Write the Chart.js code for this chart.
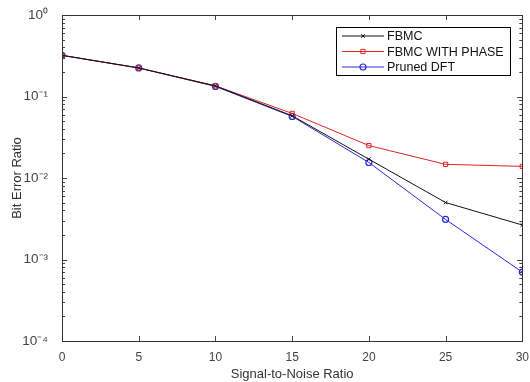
<!DOCTYPE html>
<html>
<head>
<meta charset="utf-8">
<script src="https://cdn.jsdelivr.net/npm/chart.js@4/dist/chart.umd.min.js"></script>
<style>
  html, body { margin: 0; padding: 0; background: #fff; }
  #wrap { width: 530px; height: 382px; }
</style>
</head>
<body>
<div id="wrap"><canvas id="c" width="530" height="382"></canvas></div>
<script>
const snr = [0, 5, 10, 15, 20, 25, 30];
const fbmc = [0.32, 0.224, 0.135, 0.058, 0.017, 0.005, 0.00265];
const fbmcPhase = [0.32, 0.224, 0.135, 0.062, 0.025, 0.0147, 0.0139];
const prunedDft = [0.32, 0.224, 0.133, 0.057, 0.0155, 0.0031, 0.0007];
const xTicks = [0, 5, 10, 15, 20, 25, 30];
const yTickLabels = {1: '10⁰', 0.1: '10⁻¹', 0.01: '10⁻²', 0.001: '10⁻³', 0.0001: '10⁻⁴'};

const FONT = '"Liberation Sans", Arial, sans-serif';

function pts(ys) {
  return ys.map((y, i) => ({ x: snr[i], y: y }));
}

// matlab style ticks drawn inward on all four sides
const insideTicks = {
  id: 'insideTicks',
  afterDraw(chart) {
    const ctx = chart.ctx;
    const a = chart.chartArea;
    const xs = chart.scales.x, ys = chart.scales.y;
    ctx.save();
    ctx.strokeStyle = '#444';
    ctx.lineWidth = 1;
    ctx.beginPath();
    xTicks.forEach(v => {
      const px = Math.round(xs.getPixelForValue(v)) + 0.5;
      ctx.moveTo(px, a.bottom); ctx.lineTo(px, a.bottom - 5);
      ctx.moveTo(px, a.top); ctx.lineTo(px, a.top + 5);
    });
    for (let e = -4; e < 0; e++) {
      for (let m = 1; m <= 10; m++) {
        const v = m * Math.pow(10, e);
        const py = Math.round(ys.getPixelForValue(v)) + 0.5;
        const len = (m === 1 || m === 10) ? 5 : 3;
        ctx.moveTo(a.left, py); ctx.lineTo(a.left + len, py);
        ctx.moveTo(a.right, py); ctx.lineTo(a.right - len, py);
      }
    }
    ctx.stroke();
    ctx.strokeStyle = '#333';
    ctx.strokeRect(Math.round(a.left) + 0.5, Math.round(a.top) + 0.5,
      Math.round(a.right - a.left), Math.round(a.bottom - a.top));
    ctx.restore();
  }
};

// legend box in the upper right corner
const boxLegend = {
  id: 'boxLegend',
  afterDraw(chart) {
    const ctx = chart.ctx;
    const x0 = 336, y0 = 27, w = 174, h = 48;
    ctx.save();
    ctx.fillStyle = '#fff';
    ctx.fillRect(x0, y0, w, h);
    ctx.strokeStyle = '#000';
    ctx.lineWidth = 1;
    ctx.strokeRect(x0 + 0.5, y0 + 0.5, w, h);
    ctx.font = '12.5px ' + FONT;
    ctx.textBaseline = 'middle';
    chart.data.datasets.forEach((ds, i) => {
      const y = y0 + 9 + i * 15.5;
      ctx.strokeStyle = ds.borderColor;
      ctx.lineWidth = 1;
      ctx.beginPath();
      ctx.moveTo(x0 + 6, y); ctx.lineTo(x0 + 48, y);
      ctx.stroke();
      ctx.fillStyle = 'rgba(0,0,0,0)';
      ctx.lineWidth = ds.pointBorderWidth;
      Chart.helpers.drawPoint(ctx, {
        pointStyle: ds.pointStyle, radius: ds.pointRadius,
        borderWidth: ds.pointBorderWidth
      }, x0 + 27, y);
      ctx.fillStyle = '#111';
      ctx.fillText(ds.label, x0 + 51, y + 1);
    });
    ctx.restore();
  }
};

new Chart(document.getElementById('c'), {
  type: 'line',
  data: {
    datasets: [
      { label: 'FBMC', data: pts(fbmc), borderColor: '#111', backgroundColor: 'rgba(0,0,0,0)',
        borderWidth: 1, pointStyle: 'crossRot', pointRadius: 2.5, pointBorderWidth: 1 },
      { label: 'FBMC WITH PHASE', data: pts(fbmcPhase), borderColor: '#e02424', backgroundColor: 'rgba(0,0,0,0)',
        borderWidth: 1, pointStyle: 'rect', pointRadius: 3, pointBorderWidth: 1 },
      { label: 'Pruned DFT', data: pts(prunedDft), borderColor: '#2a2ad8', backgroundColor: 'rgba(0,0,0,0)',
        borderWidth: 1, pointStyle: 'circle', pointRadius: 3, pointBorderWidth: 1.2 }
    ]
  },
  options: {
    responsive: false,
    animation: false,
    layout: { padding: { top: 15, right: 6, left: 0, bottom: 0 } },
    plugins: { legend: { display: false }, tooltip: { enabled: false } },
    scales: {
      x: {
        type: 'linear', min: 0, max: 30,
        afterBuildTicks: s => { s.ticks = xTicks.map(v => ({ value: v })); },
        afterFit: s => { s.height = 41; },
        grid: { display: false },
        border: { display: false },
        ticks: { color: '#444', font: { family: FONT, size: 12 }, padding: 1, maxRotation: 0 },
        title: { display: true, text: 'Signal-to-Noise Ratio', color: '#333',
          font: { family: FONT, size: 13 }, padding: { top: 1, bottom: 0 } }
      },
      y: {
        type: 'logarithmic', min: 0.0001, max: 1,
        afterBuildTicks: s => { s.ticks = [1, 0.1, 0.01, 0.001, 0.0001].map(v => ({ value: v })); },
        afterFit: s => { s.width = 62; },
        grid: { display: false },
        border: { display: false },
        ticks: { color: '#444', font: { family: FONT, size: 13.5 }, padding: 6,
          callback: v => yTickLabels[v] || '' },
        title: { display: true, text: 'Bit Error Ratio', color: '#333',
          font: { family: FONT, size: 13 }, padding: { top: 10, bottom: 4 } }
      }
    }
  },
  plugins: [insideTicks, boxLegend]
});
</script>
</body>
</html>
